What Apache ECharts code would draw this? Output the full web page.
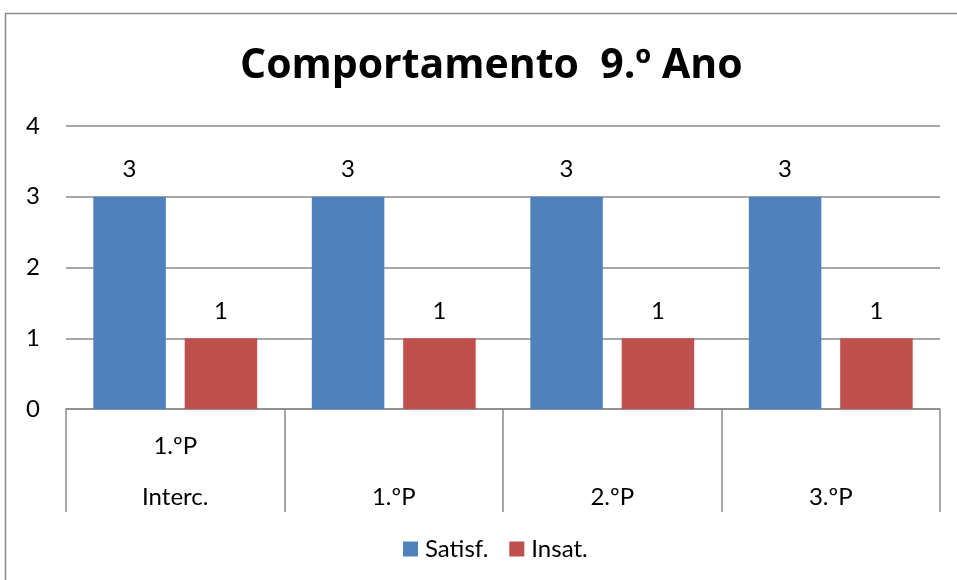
<!DOCTYPE html>
<html>
<head>
<meta charset="utf-8">
<script src="https://cdn.jsdelivr.net/npm/echarts@6/dist/echarts.min.js"></script>
<style>
html,body{margin:0;padding:0;background:#fff;}
#chart{width:957px;height:580px;}
</style>
</head>
<body>
<div id="chart"></div>
<script>
var title = 'Comportamento  9.º Ano';
var topLabels = ['1.ºP', '', '', ''];
var categories = ['Interc.', '1.ºP', '2.ºP', '3.ºP'];
var satisf = [3, 3, 3, 3];
var insat = [1, 1, 1, 1];
var yTicks = [0, 1, 2, 3, 4];

var FONT = 'Lato';
var chart = echarts.init(document.getElementById('chart'), null, {renderer: 'canvas'});
chart.setOption({
  animation: false,
  backgroundColor: '#fff',
  textStyle: {fontFamily: FONT},
  graphic: [{
    type: 'rect',
    shape: {x: 5.5, y: 13.5, width: 1000, height: 1000},
    style: {fill: 'none', stroke: '#8a8a8a', lineWidth: 1.5},
    silent: true
  }],
  title: {
    text: title,
    left: 235,
    top: 41,
    textStyle: {fontFamily: 'Open Sans', fontWeight: 'bold', fontSize: 41, color: '#000'}
  },
  legend: {
    bottom: 14,
    left: 398,
    itemWidth: 15,
    itemHeight: 15,
    itemGap: 21,
    icon: 'rect',
    textStyle: {fontFamily: FONT, fontSize: 24, color: '#000', padding: [0, 0, 0, 2]},
    data: ['Satisf.', 'Insat.']
  },
  grid: {left: 66, right: 17, top: 126, bottom: 171, containLabel: false},
  xAxis: [{
    type: 'category',
    data: topLabels,
    position: 'bottom',
    axisLine: {lineStyle: {color: '#8a8a8a', width: 1.5}},
    axisTick: {show: true, length: 103, interval: 0, lineStyle: {color: '#8a8a8a', width: 1.5}},
    axisLabel: {interval: 0, margin: 25, fontSize: 24, color: '#000', fontFamily: FONT}
  }, {
    type: 'category',
    data: categories,
    position: 'bottom',
    axisLine: {show: false},
    axisTick: {show: false},
    axisLabel: {interval: 0, margin: 76, fontSize: 24, color: '#000', fontFamily: FONT}
  }],
  yAxis: {
    type: 'value',
    min: yTicks[0],
    max: yTicks[yTicks.length - 1],
    interval: 1,
    axisLine: {show: false},
    axisTick: {show: false},
    splitLine: {lineStyle: {color: '#8a8a8a', width: 1.5}},
    axisLabel: {margin: 26, fontSize: 24, color: '#000', fontFamily: FONT}
  },
  series: [{
    name: 'Satisf.',
    type: 'bar',
    data: satisf,
    itemStyle: {color: '#4F81BD'},
    barGap: '26%',
    barCategoryGap: '25%',
    label: {show: true, position: 'top', distance: 15, fontSize: 24, color: '#000', fontFamily: FONT}
  }, {
    name: 'Insat.',
    type: 'bar',
    data: insat,
    itemStyle: {color: '#C0504D'},
    barGap: '26%',
    barCategoryGap: '25%',
    label: {show: true, position: 'top', distance: 15, fontSize: 24, color: '#000', fontFamily: FONT}
  }]
});
</script>
</body>
</html>
